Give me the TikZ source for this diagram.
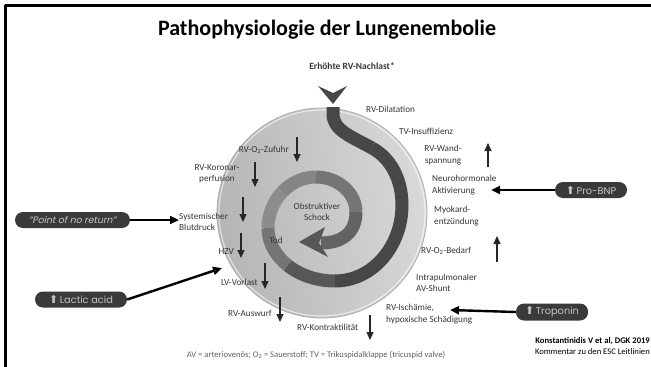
\documentclass[tikz,border=0pt]{standalone}
\usepackage{fontspec}
\setmainfont{Carlito}
\newfontfamily\pillfont{Poppins}
\newfontfamily\pillitfont{Poppins}[FakeSlant=0.2]
\newfontfamily\arrowfont{DejaVu Sans}
\usetikzlibrary{arrows.meta}
\definecolor{bandgray}{HTML}{474747}
\definecolor{pillgray}{HTML}{3A3A3A}
\definecolor{labelgray}{HTML}{363636}
\newcommand{\upsym}{{\arrowfont\fontsize{11}{10}\selectfont\char"2B06}}

\begin{document}
\begin{tikzpicture}[x=1pt, y=-1pt, line join=round,
  lbl/.style={font=\fontsize{9.2}{11.5}\selectfont, text=labelgray, inner sep=0pt},
  pill/.style={fill=pillgray, rounded corners=8pt, minimum height=16pt, inner sep=0pt,
    text=gray!45, font=\pillfont\fontsize{9.8}{10}\selectfont},
  dnarrow/.style={line width=1.2pt, black!85, -{Triangle[width=7pt,length=8pt]}},
  pillarrow/.style={line width=2.4pt, -{Triangle[width=8pt,length=9pt]}},
  band/.style={line width=13pt, line cap=butt}]
  \useasboundingbox (0,0) rectangle (651,367);
  \draw[line width=3pt] (5,367) -- (5,5) -- (651,5);
  \node[font=\bfseries\fontsize{22}{26}\selectfont] (title) at (327,30) {Pathophysiologie der Lungenembolie};
  % disc
  \shade[left color=gray!58, middle color=gray!12, right color=gray!30, shading angle=100] (322,213) circle (105);
  \draw[gray!65, line width=0.8pt] (322,213) circle (105);
  \draw[white, opacity=0.6, line width=1.2pt] (322,213) circle (103);
  % load arrow and spiral
  \node[font=\bfseries\fontsize{9.5}{11}\selectfont, text=labelgray] (nachlast) at (352,66) {Erhöhte RV-Nachlast*};
  \fill[bandgray] (318,86) -- (333,93) -- (347,86) -- (333,104) -- cycle;
  \draw[band, bandgray] (333,107) -- (333,114) .. controls (333,130) and (350,136) .. (372,148);
  \draw[band, bandgray] (372,148) .. controls (389.6,157.6) and (402,178) .. (402,205);
  \draw[band, bandgray] (402,205) .. controls (402,247) and (372,281) .. (335,281);
  \draw[band, black!66] (335,281) .. controls (316.5,281) and (299.75,275) .. (287.6,265.4);
  \draw[band, black!54] (287.6,265.4) .. controls (275.5,255.75) and (268,242.5) .. (268,228);
  \draw[band, black!45] (268,228) .. controls (268,214) and (273.5,201.25) .. (282.25,192);
  \draw[band, black!48] (282.25,192) .. controls (291,182.75) and (303,177) .. (316,177);
  \draw[band, black!54] (316,177) .. controls (338,177) and (356,193) .. (356,212);
  \draw[band, black!61] (356,212) .. controls (356,232) and (343,243) .. (321,243);
  \fill[black!66] (299,242) -- (325,227) -- (319,243) -- (328,257) -- cycle;
  \node[lbl, align=center] (schock) at (317,212) {Obstruktiver\\Schock};
  \node[lbl] (tod) at (276,240) {Tod};
  % right side
  \node[lbl, anchor=west] (dilat) at (366,109) {RV-Dilatation};
  \node[lbl, anchor=west] (tvins) at (399,131) {TV-Insuffizienz};
  \node[lbl, align=center] (wand) at (443,155) {RV-Wand-\\spannung};
  \node[lbl, anchor=west, align=left] (neuro) at (432,185) {Neurohormonale\\Aktivierung};
  \node[lbl, anchor=west, align=left] (myo) at (434,216) {Myokard-\\entzündung};
  \node[lbl, anchor=west] (bedarf) at (421,251) {RV-O\textsubscript{2}-Bedarf};
  \node[lbl, anchor=west, align=left] (shunt) at (416,283) {Intrapulmonaler\\AV-Shunt};
  \node[lbl, anchor=west, align=left] (isch) at (386,314) {RV-Ischämie,\\hypoxische Schädigung};
  \node[lbl, anchor=west] (kontr) at (297,327) {RV-Kontraktilität};
  % left side
  \node[lbl, anchor=east] (zufuhr) at (289,150) {RV-O\textsubscript{2}-Zufuhr};
  \node[lbl, align=center] (koronar) at (217,174) {RV-Koronar-\\perfusion};
  \node[lbl, anchor=west, align=left] (sysbd) at (179,222) {Systemischer\\Blutdruck};
  \node[lbl, anchor=east] (hzv) at (234,252) {HZV};
  \node[lbl, anchor=east] (vorlast) at (258,282) {LV-Vorlast};
  \node[lbl, anchor=east] (auswurf) at (272,313) {RV-Auswurf};
  % up and down
  \draw[dnarrow] (297,137) -- (297,162);
  \draw[dnarrow] (255,162) -- (255,187);
  \draw[dnarrow] (243,197) -- (243,222);
  \draw[dnarrow] (241,233) -- (241,258);
  \draw[dnarrow] (265,263) -- (265,289);
  \draw[dnarrow] (280,297) -- (280,322);
  \draw[dnarrow] (370,315) -- (370,340);
  \draw[dnarrow] (488,167) -- (488,143);
  \draw[dnarrow] (497,262) -- (497,236);
  % markers
  \node[pill, minimum width=115pt, font=\pillitfont\fontsize{9.4}{10}\selectfont] (pnr) at (72.5,220) {“Point of no return”};
  \node[pill, minimum width=92pt] (lactic) at (81,299.5) {\upsym\,Lactic acid};
  \node[pill, minimum width=72pt] (probnp) at (591,190) {\upsym\,Pro-BNP};
  \node[pill, minimum width=72pt, minimum height=17pt] (tropo) at (552,312) {\upsym\,Troponin};
  \coordinate (lacticend) at (222,268);
  \coordinate (bnpend) at (491,190);
  \coordinate (tropoend) at (450,310);
  \draw[pillarrow] (pnr.east) -- (sysbd.west |- pnr.east);
  \draw[pillarrow] (lactic.east) -- (lacticend);
  \draw[pillarrow] (probnp.west) -- (bnpend);
  \draw[pillarrow] (tropo.west) -- (tropoend);
  \node[font=\fontsize{8.6}{10}\selectfont, text=gray!75!black] (legend) at (316,355) {AV = arteriovenös; O\textsubscript{2} = Sauerstoff; TV = Trikuspidalklappe (tricuspid valve)};
  \node[anchor=east, align=right, inner sep=0pt, font=\fontsize{8.6}{11}\selectfont] (cite) at (650,346.5) {\textbf{Konstantinidis V et al, DGK 2019}\\Kommentar zu den ESC Leitlinien};
\end{tikzpicture}
\end{document}
